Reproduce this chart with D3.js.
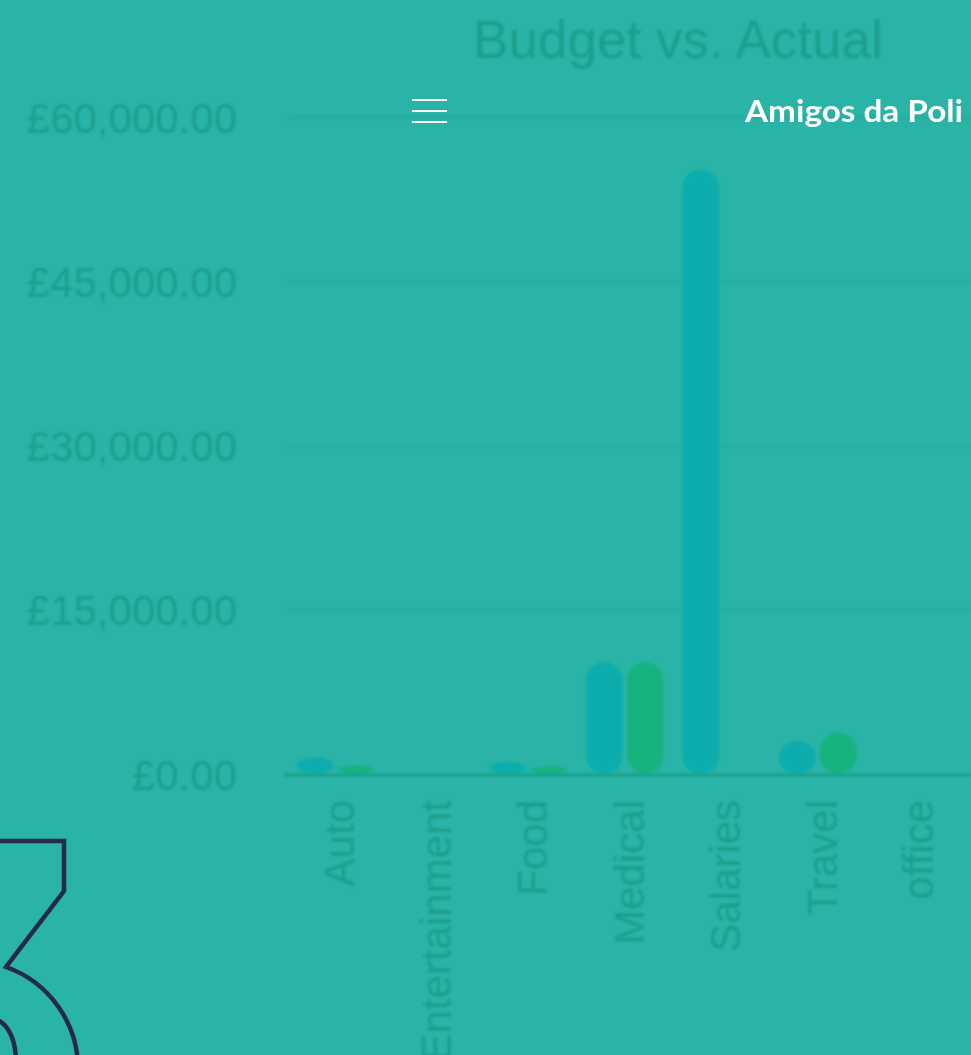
<!DOCTYPE html>
<html>
<head>
<meta charset="utf-8">
<script src="https://cdn.jsdelivr.net/npm/d3@7"></script>
<style>
  html, body { margin: 0; padding: 0; background: #2ab4a8; overflow: hidden; }
  svg { display: block; }
</style>
</head>
<body>
<div id="chart"></div>
<script>
// ---- data ----
const categories = ["Auto", "Entertainment", "Food", "Medical", "Salaries", "Travel", "office"];
const seriesNames = ["Budget", "Actual"];
const budgetValues = [1500, 0, 1100, 10200, 55200, 3000, 0];
const actualValues = [800, 0, 700, 10200, 0, 3800, 0];
const yTickValues = [0, 15000, 30000, 45000, 60000];
const chartTitle = "Budget vs. Actual";
const siteName = "Amigos da Poli";

const W = 971, H = 1055;
const svg = d3.select("#chart").append("svg").attr("width", W).attr("height", H);

svg.append("rect").attr("width", W).attr("height", H).attr("fill", "#2ab4a8");

const defs = svg.append("defs");
defs.append("filter").attr("id", "soft").attr("x", "-5%").attr("y", "-5%").attr("width", "110%").attr("height", "110%")
  .append("feGaussianBlur").attr("stdDeviation", 0.9);

const plotLeft = 287, step = 96.5, plotRight = W;
const x0 = d3.scaleBand().domain(categories).range([plotLeft, plotLeft + step * categories.length]).padding(0);
const x1 = d3.scaleBand().domain(seriesNames).range([-40, 40]).paddingInner(0.1).paddingOuter(0.025);
const y = d3.scaleLinear().domain([0, 60000]).range([774, 117]);

const colors = { Budget: "#07adad", Actual: "#18b37f" };
const textColor = "#1d9f8c";

const chart = svg.append("g").attr("filter", "url(#soft)");

// title
chart.append("text").attr("x", 678).attr("y", 58).attr("text-anchor", "middle")
  .attr("font-family", "Liberation Sans, Arial, sans-serif").attr("font-size", 53)
  .attr("fill", textColor).text(chartTitle);

// gridlines
const grid = chart.append("g").attr("transform", `translate(${plotLeft},0)`)
  .call(d3.axisLeft(y).tickValues(yTickValues.filter(v => v > 0)).tickSize(-(plotRight - plotLeft)).tickFormat(""));
grid.select(".domain").remove();
grid.selectAll("line").attr("stroke", "#25a99c").attr("stroke-width", 2);

// y axis labels
const yAxis = chart.append("g").attr("transform", `translate(${plotLeft},0)`)
  .call(d3.axisLeft(y).tickValues(yTickValues).tickSize(0).tickPadding(50)
    .tickFormat(d => "£" + d3.format(",.2f")(d)));
yAxis.select(".domain").remove();
yAxis.selectAll("text").attr("font-family", "Liberation Sans, Arial, sans-serif")
  .attr("font-size", 42).attr("dy", "0.36em").attr("fill", textColor);

// bars
const rows = categories.map((c, i) => ({ cat: c, vals: [
  { s: "Budget", v: budgetValues[i] }, { s: "Actual", v: actualValues[i] }] }));
const bw = x1.bandwidth();
chart.append("g").selectAll("g").data(rows).join("g")
  .attr("transform", d => `translate(${x0(d.cat) + x0.bandwidth() / 2},0)`)
  .selectAll("rect").data(d => d.vals.filter(e => e.v > 0)).join("rect")
  .attr("x", d => x1(d.s))
  .attr("width", bw)
  .attr("y", d => y(d.v))
  .attr("height", d => y(0) - y(d.v))
  .attr("rx", bw / 2)
  .attr("fill", d => colors[d.s]);

// x axis
const xAxis = chart.append("g").attr("transform", `translate(0,${y(0)})`)
  .call(d3.axisBottom(x0).tickSize(0));
xAxis.select(".domain").remove();
chart.append("line").attr("x1", 284).attr("x2", W).attr("y1", y(0) + 1).attr("y2", y(0) + 1)
  .attr("stroke", "#1a9f8b").attr("stroke-width", 3);
xAxis.selectAll("text")
  .attr("transform", "rotate(-90)")
  .attr("x", -26).attr("y", 0).attr("dy", "0.45em")
  .style("text-anchor", "end")
  .attr("font-family", "Liberation Sans, Arial, sans-serif")
  .attr("font-size", 42).attr("fill", textColor);

// ---- site overlay ----
const menu = svg.append("g").attr("stroke", "#ffffff").attr("stroke-width", 2.2);
[100, 111, 122].forEach(yy => menu.append("line").attr("x1", 412).attr("x2", 447).attr("y1", yy).attr("y2", yy));

svg.append("text").attr("x", 745).attr("y", 122)
  .attr("font-family", "Lato, Inter, sans-serif").attr("font-weight", 700).attr("font-size", 31)
  .attr("textLength", 218).attr("lengthAdjust", "spacingAndGlyphs")
  .attr("fill", "#ffffff").text(siteName);

// outline "3"
svg.append("path")
  .attr("d", "M -5 841 L 64 841 L 64 891 L 6 967 A 108 108 0 0 1 78 1070")
  .attr("fill", "none").attr("stroke", "#262a4a").attr("stroke-width", 4.5).attr("stroke-linejoin", "miter");
svg.append("path")
  .attr("d", "M -2 1020 Q 15 1030 16 1060")
  .attr("fill", "none").attr("stroke", "#262a4a").attr("stroke-width", 4.5);
</script>
</body>
</html>
